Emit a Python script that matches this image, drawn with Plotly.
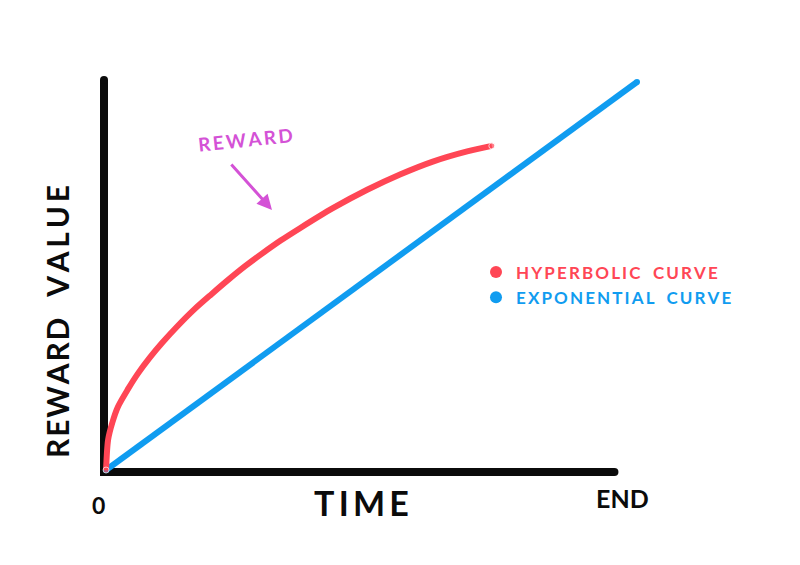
"""
Hyperbolic vs exponential reward curve, hand-drawn style sketch.
"""

import plotly.graph_objects as go

# Dados (tempo: 0 = origem, 1 = END; valor: 0..1 = altura do eixo)
tempo_hiperbolica = [0.004, 0.008, 0.016, 0.027, 0.047, 0.066, 0.090, 0.113,
                     0.144, 0.177, 0.209, 0.242, 0.275, 0.308, 0.345, 0.382,
                     0.446, 0.513, 0.577, 0.641, 0.708, 0.756]
valor_hiperbolica = [0.005, 0.082, 0.125, 0.166, 0.212, 0.251, 0.293, 0.329,
                     0.373, 0.416, 0.453, 0.490, 0.525, 0.557, 0.591, 0.622,
                     0.673, 0.720, 0.759, 0.792, 0.818, 0.832]

tempo_exponencial = [0.004, 1.039]
valor_exponencial = [0.005, 0.995]

# Eixos desenhados à mão (topo do eixo Y -> origem -> fim do eixo X)
eixo_x = [0.0, 0.0, 0.995]
eixo_y = [1.0, 0.0, 0.0]

rotulos_x = ["0", "END"]
titulo_x = "TIME"
titulo_y = ["REWARD", "VALUE"]
nomes_series = ["HYPERBOLIC CURVE", "EXPONENTIAL CURVE"]

CORES = dict(
    vermelho="#ff4655",
    azul="#109cf0",
    magenta="#d452d6",
    preto="#0b0b0b",
)

FONTE = "Lato, 'Open Sans', 'DejaVu Sans', sans-serif"
NB = "\u00a0"
TS = "\u2009"
HS = "\u200a"


def espacado(texto, sep=TS, gap=NB * 3):
    """Espalha as letras para imitar letras feitas à mão."""
    return gap.join(sep.join(p) for p in texto.split(" "))


W, H = 800, 565
OFFSET = 8  # margem do <body> na página


def px(x):
    return (x - OFFSET) / W


def py(y):
    return 1 - (y - OFFSET) / H


# origem do desenho em pixels (na página) e escala dos eixos
X0, Y0 = 104 - OFFSET, 472 - OFFSET
ESC_X, ESC_Y = 513, 392

fig = go.Figure()

# eixos
fig.add_trace(go.Scatter(
    x=eixo_x, y=eixo_y,
    mode="lines+markers",
    line=dict(color=CORES["preto"], width=8),
    marker=dict(size=8, color=CORES["preto"]),
    hoverinfo="skip",
    showlegend=False,
))

# curva exponencial (linha azul)
fig.add_trace(go.Scatter(
    x=tempo_exponencial, y=valor_exponencial,
    mode="lines+markers",
    line=dict(color=CORES["azul"], width=6),
    marker=dict(size=6, color=CORES["azul"]),
    showlegend=False,
))

# curva hiperbólica (vermelha)
fig.add_trace(go.Scatter(
    x=tempo_hiperbolica, y=valor_hiperbolica,
    mode="lines+markers",
    line=dict(color=CORES["vermelho"], width=6, shape="spline", smoothing=0.8),
    marker=dict(size=[6] + [0] * (len(tempo_hiperbolica) - 2) + [6],
                color=CORES["vermelho"]),
    showlegend=False,
))

# entradas da legenda (apenas pontos)
for nome, cor in zip(nomes_series, [CORES["vermelho"], CORES["azul"]]):
    fig.add_trace(go.Scatter(
        x=[None], y=[None],
        mode="markers",
        marker=dict(size=12, color=cor),
        name=f"<span style='color:{cor}'>{espacado(nome)}</span>",
    ))

anotacoes = [
    # REWARD + seta
    dict(x=px(245), y=py(139), text=espacado("REWARD"), textangle=-6,
         font=dict(size=19, color=CORES["magenta"], weight="bold")),
    dict(x=px(272), y=py(210), ax=-42, ay=-47, text="", showarrow=True,
         arrowhead=2, arrowsize=1, arrowwidth=3, arrowcolor=CORES["magenta"]),
    # título Y
    dict(x=px(57), y=py(322),
         text=espacado(titulo_y[0], HS) + NB * 3 + espacado(titulo_y[1], TS),
         textangle=-90, font=dict(size=30, color=CORES["preto"], weight="bold")),
    # título X
    dict(x=px(361), y=py(502), text=espacado(titulo_x, HS * 2),
         font=dict(size=34, color=CORES["preto"], weight="bold")),
    # rótulos 0 / END
    dict(x=px(98), y=py(505), text=rotulos_x[0],
         font=dict(size=23, color=CORES["preto"], weight="bold")),
    dict(x=px(622), y=py(498), text=rotulos_x[1],
         font=dict(size=25, color=CORES["preto"], weight="bold")),
]
for a in anotacoes:
    a.setdefault("showarrow", False)
    a.update(xref="paper", yref="paper", xanchor="center", yanchor="middle")
    fig.add_annotation(**a)

fig.update_layout(
    width=W, height=H,
    paper_bgcolor="white",
    plot_bgcolor="white",
    font=dict(family=FONTE, color=CORES["preto"]),
    margin=dict(l=0, r=0, t=0, b=0),
    xaxis=dict(range=[-X0 / ESC_X, (W - X0) / ESC_X], visible=False, fixedrange=True),
    yaxis=dict(range=[(Y0 - H) / ESC_Y, Y0 / ESC_Y], visible=False, fixedrange=True),
    legend=dict(
        x=px(476), y=py(285),
        xanchor="left", yanchor="middle",
        bgcolor="rgba(0,0,0,0)",
        font=dict(size=17, weight="bold"),
        itemwidth=30,
        tracegroupgap=0,
    ),
    showlegend=True,
)

fig.write_html("out.html")
